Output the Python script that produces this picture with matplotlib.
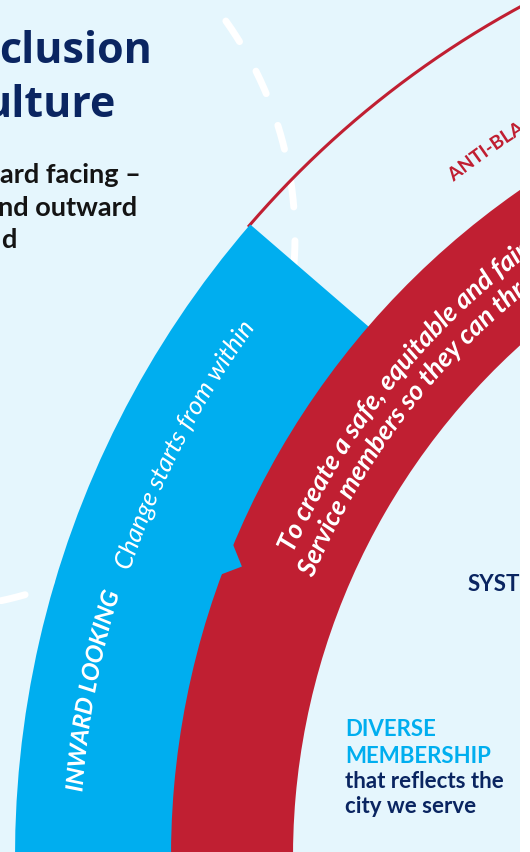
import numpy as np
import matplotlib.pyplot as plt
from matplotlib.patches import Wedge, Polygon, PathPatch, Rectangle
from matplotlib.textpath import TextPath
from matplotlib.font_manager import FontProperties
from matplotlib.path import Path

# --- text content -------------------------------------------------------
title_lines = ["clusion", "ulture"]
intro_lines = ["ard facing \u2013", "nd outward", "d"]
blue_label = "INWARD LOOKING"
blue_sub = "Change starts from within"
red_lines = ["To create a safe, equitable and fair", "Service members so they can thr"]
ring_label = "ANTI-BLA"
side_head = ["DIVERSE", "MEMBERSHIP"]
side_body = ["that reflects the", "city we serve"]
cut_label = "SYST"

BG = "#e5f6fd"
BLUE = "#00aeef"
RED = "#c01f32"
NAVY = "#0a2561"
INK = "#141414"

W, H = 530, 852
CX, CY = 983, -5          # ring centre in pixels (y up)
R_OUT, R_MID, R_IN = 968, 812, 690

fig = plt.figure(figsize=(W / 100, H / 100), dpi=100)
ax = fig.add_axes([0, 0, 520 / W, 1])
ax.set_xlim(0, 520)
ax.set_ylim(0, H)
ax.set_axis_off()
ax.add_patch(Rectangle((0, 0), 1, 1, transform=ax.transAxes, fc=BG, ec="none", zorder=0))


def polar(r, a):
    a = np.radians(a)
    return CX + r * np.cos(a), CY + r * np.sin(a)


def curved_text(s, r, start, size, color, fp):
    # bend a text path round the ring centre, clockwise, tops outward
    tp = TextPath((0, 0), s, size=size, prop=fp)
    v = tp.vertices
    phi = np.radians(start) - v[:, 0] / r
    rr = r + v[:, 1]
    verts = np.column_stack([CX + rr * np.cos(phi), CY + rr * np.sin(phi)])
    ax.add_patch(PathPatch(Path(verts, tp.codes), fc=color, ec="none", lw=0, zorder=6))


# dashed white circle behind the bands
DC = (-77, 615)
DR = 372
t = np.radians(np.linspace(35.5, -20, 300))
ax.plot(DC[0] + DR * np.cos(t), DC[1] + DR * np.sin(t), color="white", lw=5,
        ls=(0, (3.57, 4.86)), dash_capstyle="round", zorder=1)
t = np.radians(np.linspace(-60, -95, 200))
ax.plot(DC[0] + DR * np.cos(t), DC[1] + DR * np.sin(t), color="white", lw=5,
        ls=(3.71, (3.57, 4.86)), dash_capstyle="round", zorder=1)

# thin red ring line above the blue band
t = np.linspace(139.3, 110, 300)
xs, ys = polar(R_OUT, t)
ax.plot(xs, ys, color=RED, lw=2.2, zorder=2)

# blue band and red band
ax.add_patch(Wedge((CX, CY), R_OUT, 139.2, 195, width=R_OUT - R_MID + 2, fc=BLUE, ec="none", zorder=3))
ax.add_patch(Wedge((CX, CY), R_MID, 100, 200, width=R_MID - R_IN, fc=RED, ec="none", zorder=4))
notch = [polar(R_MID + 3, 159.8), polar(796, 158.6), polar(R_MID + 3, 157.2)]
ax.add_patch(Polygon(notch, closed=True, fc=BLUE, ec="none", zorder=5))

# curved labels
lato_bi = FontProperties(family="Lato", weight="bold", style="italic")
lato_i = FontProperties(family="Lato", weight="normal", style="italic")
lato_b = FontProperties(family="Lato", weight="bold")

curved_text(blue_label, 903, 175.9, 24, "white", lato_bi)
curved_text(blue_sub, 900, 161.5, 25.5, "white", lato_i)
curved_text(red_lines[0], 754, 156.3, 26.5, "white", lato_bi)
curved_text(red_lines[1], 726, 157.4, 26.5, "white", lato_bi)
curved_text(ring_label, 858, 128.1, 19, RED, lato_b)

# straight text
for s, x, y in zip(title_lines, [152, 116], [789, 735]):
    ax.text(x, y, s, ha="right", va="baseline", fontsize=31, fontweight="bold",
            family="Open Sans", color=NAVY, zorder=7)
for s, x, y in zip(intro_lines, [141, 137, 16], [669, 636, 604]):
    ax.text(x, y, s, ha="right", va="baseline", fontsize=19.5, fontweight="bold",
            family="Lato", color=INK, zorder=7)
for s, y in zip(side_head, [116, 89]):
    ax.text(345, y, s, ha="left", va="baseline", fontsize=16, fontweight="bold",
            family="Lato", color=BLUE, zorder=7)
for s, y in zip(side_body, [64, 39]):
    ax.text(345, y, s, ha="left", va="baseline", fontsize=16, fontweight="bold",
            family="Lato", color=NAVY, zorder=7)
ax.text(468, 261, cut_label, ha="left", va="baseline", fontsize=16, fontweight="bold",
        family="Lato", color=NAVY, zorder=7, clip_on=True)

fig.savefig("out.png", dpi=100, facecolor="white")
